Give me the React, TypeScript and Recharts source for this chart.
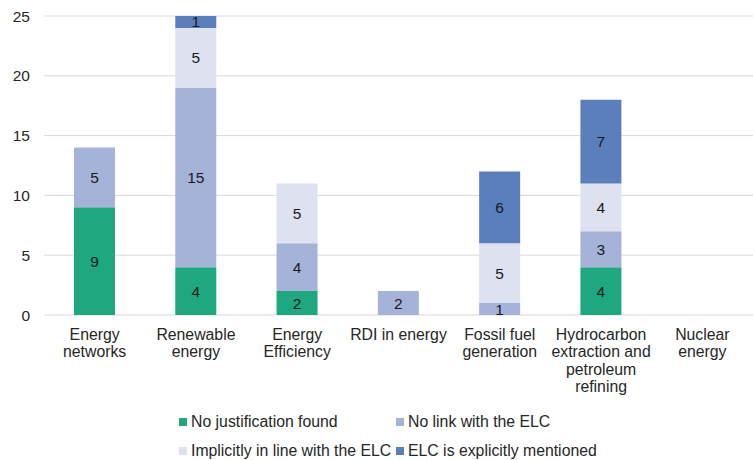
import { BarChart, Bar, XAxis, YAxis, CartesianGrid, Legend, LabelList } from "recharts";

const categories = [
  "Energy\nnetworks",
  "Renewable\nenergy",
  "Energy\nEfficiency",
  "RDI in energy",
  "Fossil fuel\ngeneration",
  "Hydrocarbon\nextraction and\npetroleum\nrefining",
  "Nuclear\nenergy",
];

const noJustification = [9, 4, 2, 0, 0, 4, 0];
const noLink = [5, 15, 4, 2, 1, 3, 0];
const implicitly = [0, 5, 5, 0, 5, 4, 0];
const explicitly = [0, 1, 0, 0, 6, 7, 0];

const yTicks = [0, 5, 10, 15, 20, 25];

const series = [
  { key: "noJustification", name: "No justification found", color: "#1fa77f" },
  { key: "noLink", name: "No link with the ELC", color: "#a5b3d8" },
  { key: "implicitly", name: "Implicitly in line with the ELC", color: "#dde1f0" },
  { key: "explicitly", name: "ELC is explicitly mentioned", color: "#5b7ebd" },
];

const data = categories.map((c, i) => ({
  name: c,
  noJustification: noJustification[i],
  noLink: noLink[i],
  implicitly: implicitly[i],
  explicitly: explicitly[i],
}));

const FONT = "'Liberation Sans', Arial, sans-serif";

function CategoryTick(props: any) {
  const { x, y, payload } = props;
  const lines = String(payload.value).split("\n");
  return (
    <text x={x} y={y} textAnchor="middle" fontFamily={FONT} fontSize={15.8} fill="#262626">
      {lines.map((l, i) => (
        <tspan key={i} x={x} dy={i === 0 ? 17 : 17.3}>
          {l}
        </tspan>
      ))}
    </text>
  );
}

function SegmentLabel(props: any) {
  const { x, y, width, height, value } = props;
  if (!value) return null;
  return (
    <text
      x={x + width / 2}
      y={y + height / 2}
      textAnchor="middle"
      dominantBaseline="central"
      fontFamily={FONT}
      fontSize={15.5}
      fill="#1a1a1a"
    >
      {value}
    </text>
  );
}

function LegendBox() {
  const pos = [
    { left: 179, top: 13 },
    { left: 396, top: 13 },
    { left: 179, top: 42 },
    { left: 396, top: 42 },
  ];
  return (
    <div style={{ position: "relative", width: 753, height: 60, fontFamily: FONT, fontSize: 15.8, color: "#262626" }}>
      {series.map((s, i) => (
        <div
          key={s.key}
          style={{ position: "absolute", left: pos[i].left, top: pos[i].top, display: "flex", alignItems: "center", whiteSpace: "nowrap", lineHeight: "18px" }}
        >
          <span style={{ width: 8, height: 8, background: s.color, display: "inline-block", marginRight: 4 }} />
          <span>{s.name}</span>
        </div>
      ))}
    </div>
  );
}

export default function App() {
  return (
    <div style={{ position: "absolute", left: 0, top: 0, width: 753, height: 460, background: "#fff" }}>
      <BarChart
        width={753}
        height={460}
        data={data}
        margin={{ top: 16, right: 0, left: 0, bottom: 0 }}
        barSize={41}
      >
        <CartesianGrid vertical={false} stroke="#d9d9d9" />
        <XAxis
          dataKey="name"
          interval={0}
          axisLine={false}
          tickLine={false}
          height={85}
          tick={<CategoryTick />}
        />
        <YAxis
          domain={[0, 25]}
          ticks={yTicks}
          width={44}
          axisLine={false}
          tickLine={false}
          tickMargin={8}
          tick={{ fontSize: 15.5, fill: "#262626", fontFamily: FONT }}
        />
        <Legend verticalAlign="bottom" height={60} wrapperStyle={{ left: 0, width: 753, bottom: 0 }} content={<LegendBox />} />
        {series.map((s) => (
          <Bar key={s.key} dataKey={s.key} name={s.name} stackId="a" fill={s.color} isAnimationActive={false}>
            <LabelList dataKey={s.key} content={<SegmentLabel />} />
          </Bar>
        ))}
      </BarChart>
    </div>
  );
}
